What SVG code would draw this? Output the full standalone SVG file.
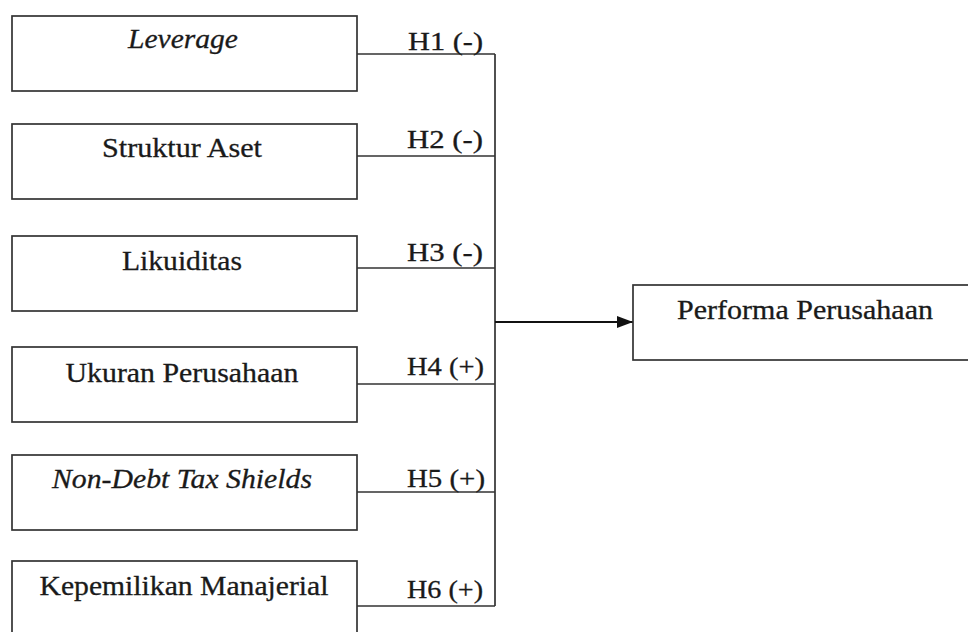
<svg xmlns="http://www.w3.org/2000/svg" width="968" height="632" viewBox="0 0 968 632">
<defs>
<style>
.box{fill:#fff;stroke:#333;stroke-width:1.7}
.t{font-family:"Liberation Serif","Times New Roman",serif;font-size:27px;fill:#1a1a1a;stroke:#1a1a1a;stroke-width:0.3;text-anchor:middle}
.i{font-style:italic}
.h{font-family:"Liberation Serif","Times New Roman",serif;font-size:25px;fill:#1a1a1a;stroke:#1a1a1a;stroke-width:0.3}
.c{fill:none;stroke:#333;stroke-width:1.7}
</style>
<marker id="arr" viewBox="0 0 16 12" refX="16" refY="6" markerWidth="16" markerHeight="12" markerUnits="userSpaceOnUse" orient="auto">
<path d="M0,0 L16,6 L0,12 Z" fill="#111"/>
</marker>
</defs>
<rect width="968" height="632" fill="#fff"/>
<g id="connectors">
<path class="c" d="M357,54 H495 M357,156 H495 M357,268 H495 M357,384 H495 M357,492 H495 M357,606 H495 M495,54 V606"/>
<line x1="495" y1="322" x2="633" y2="322" stroke="#111" stroke-width="2" marker-end="url(#arr)"/>
<text class="h" x="408" y="50" textLength="75" lengthAdjust="spacingAndGlyphs">H1  (-)</text>
<text class="h" x="407" y="148" textLength="76" lengthAdjust="spacingAndGlyphs">H2  (-)</text>
<text class="h" x="407" y="261" textLength="76" lengthAdjust="spacingAndGlyphs">H3  (-)</text>
<text class="h" x="407" y="375" textLength="77" lengthAdjust="spacingAndGlyphs">H4  (+)</text>
<text class="h" x="407" y="487" textLength="78" lengthAdjust="spacingAndGlyphs">H5  (+)</text>
<text class="h" x="407" y="598" textLength="76" lengthAdjust="spacingAndGlyphs">H6 (+)</text>
</g>
<g id="n1"><rect class="box" x="12" y="16" width="345" height="75"/><text class="t i" x="183" y="48" textLength="110" lengthAdjust="spacingAndGlyphs">Leverage</text></g>
<g id="n2"><rect class="box" x="12" y="124" width="345" height="75"/><text class="t" x="182" y="157" textLength="160" lengthAdjust="spacingAndGlyphs">Struktur Aset</text></g>
<g id="n3"><rect class="box" x="12" y="236" width="345" height="75"/><text class="t" x="182" y="270" textLength="120" lengthAdjust="spacingAndGlyphs">Likuiditas</text></g>
<g id="n4"><rect class="box" x="12" y="347" width="345" height="75"/><text class="t" x="182" y="382" textLength="233" lengthAdjust="spacingAndGlyphs">Ukuran Perusahaan</text></g>
<g id="n5"><rect class="box" x="12" y="455" width="345" height="75"/><text class="t i" x="182" y="488" textLength="260" lengthAdjust="spacingAndGlyphs">Non-Debt Tax Shields</text></g>
<g id="n6"><rect class="box" x="12" y="561" width="345" height="100"/><text class="t" x="184" y="595" textLength="289" lengthAdjust="spacingAndGlyphs">Kepemilikan Manajerial</text></g>
<g id="n7"><rect class="box" x="633" y="285" width="400" height="75"/><text class="t" x="805" y="319" textLength="256" lengthAdjust="spacingAndGlyphs">Performa Perusahaan</text></g>
</svg>
